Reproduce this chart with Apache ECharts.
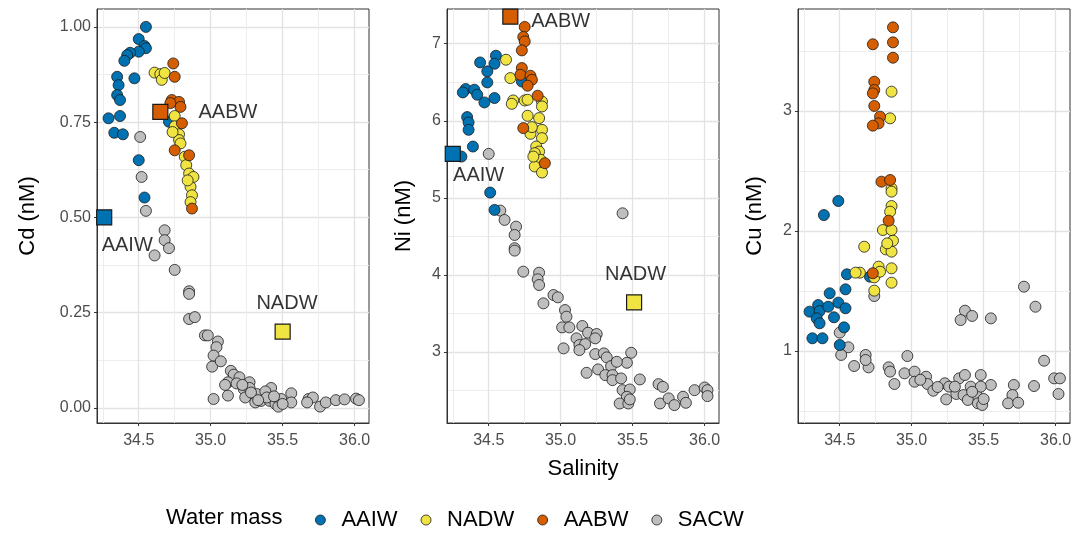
<!DOCTYPE html>
<html>
<head>
<meta charset="utf-8">
<script src="https://cdn.jsdelivr.net/npm/echarts@6/dist/echarts.min.js"></script>
<style>
  html, body { margin: 0; padding: 0; background: #fff; }
  #chart { width: 1087px; height: 544px; }
</style>
</head>
<body>
<div id="chart"></div>
<script>
// water masses, legend order
var masses = ['AAIW', 'NADW', 'AABW', 'SACW'];
var massColors = { AAIW: '#0072B2', NADW: '#F0E442', AABW: '#D55E00', SACW: '#BEBEBE' };

var xTicks = [34.5, 35.0, 35.5, 36.0];
var xMinor = [34.25, 34.75, 35.25, 35.75];

// --- Cd panel ---
var cdAAIW = [[34.55,1.00],[34.50,0.968],[34.54,0.95],[34.55,0.944],[34.50,0.935],[34.44,0.932],[34.42,0.926],[34.40,0.911],[34.35,0.869],[34.47,0.865],[34.36,0.847],[34.35,0.821],[34.37,0.808],[34.29,0.76],[34.37,0.766],[34.33,0.722],[34.39,0.718],[34.50,0.65],[34.54,0.552],[34.71,0.751]];
var cdNADW = [[34.61,0.88],[34.65,0.876],[34.66,0.861],[34.68,0.879],[34.75,0.766],[34.75,0.739],[34.78,0.718],[34.78,0.703],[34.82,0.659],[34.83,0.637],[34.85,0.615],[34.88,0.606],[34.86,0.58],[34.87,0.558],[34.86,0.54],[34.84,0.597],[34.79,0.694],[34.735,0.724]];
var cdAABW = [[34.74,0.904],[34.75,0.869],[34.73,0.808],[34.78,0.803],[34.79,0.79],[34.80,0.747],[34.75,0.676],[34.85,0.663],[34.87,0.523],[34.72,0.80]];
var cdSACW = [[34.51,0.711],[34.52,0.606],[34.55,0.517],[34.68,0.466],[34.68,0.44],[34.71,0.419],[34.61,0.40],[34.75,0.362],[34.85,0.306],[34.85,0.299],[34.85,0.233],[34.89,0.238],[34.96,0.19],[34.98,0.19],[35.05,0.174],[35.04,0.159],[35.02,0.137],[35.01,0.108],[35.07,0.122],[35.02,0.023],[35.12,0.032],[35.14,0.097],[35.16,0.087],[35.20,0.08],[35.12,0.067],[35.18,0.064],[35.27,0.067],[35.42,0.052],[35.23,0.049],[35.27,0.052],[35.24,0.027],[35.32,0.036],[35.38,0.043],[35.31,0.014],[35.35,0.018],[35.41,0.018],[35.45,0.01],[35.48,0.017],[35.47,0.003],[35.56,0.038],[35.56,0.014],[35.49,0.023],[35.68,0.023],[35.71,0.027],[35.67,0.014],[35.76,0.003],[35.80,0.014],[35.87,0.02],[35.93,0.022],[36.01,0.024],[36.03,0.02],[35.28,0.04],[35.39,0.027],[35.10,0.06],[35.22,0.06],[35.33,0.02],[35.44,0.03],[35.50,0.01]];
var cdEnd = { AAIW: [34.26,0.50], AABW: [34.65,0.777], NADW: [35.50,0.20] };
var cdText = { AABW: [35.12,0.774], AAIW: [34.42,0.426], NADW: [35.53,0.275] };
var cdTicks = [0, 0.25, 0.5, 0.75, 1.0];
var cdMinor = [0.125, 0.375, 0.625, 0.875];

// --- Ni panel ---
var niAAIW = [[34.55,6.844],[34.44,6.757],[34.54,6.74],[34.49,6.641],[34.49,6.498],[34.34,6.412],[34.32,6.368],[34.40,6.403],[34.42,6.338],[34.47,6.238],[34.54,6.295],[34.35,6.048],[34.36,5.978],[34.36,5.883],[34.39,5.666],[34.31,5.536],[34.51,5.069],[34.54,4.844],[34.73,6.51]];
var niNADW = [[34.62,6.792],[34.65,6.554],[34.67,6.264],[34.66,6.22],[34.75,6.264],[34.77,6.273],[34.87,6.25],[34.87,6.186],[34.77,6.065],[34.85,6.035],[34.79,5.831],[34.87,5.883],[34.87,5.775],[34.80,5.918],[34.83,5.666],[34.85,5.601],[34.82,5.58],[34.86,5.494],[34.82,5.407],[34.87,5.329],[34.81,5.536]];
var niAABW = [[34.75,7.217],[34.74,7.087],[34.75,7.03],[34.73,6.913],[34.73,6.684],[34.72,6.597],[34.79,6.584],[34.80,6.532],[34.77,6.455],[34.84,6.325],[34.74,5.905],[34.89,5.45]];
var niSACW = [[34.50,5.571],[34.58,4.835],[34.61,4.714],[34.69,4.627],[34.68,4.519],[34.68,4.347],[35.43,4.80],[34.68,4.316],[34.74,4.043],[34.85,4.03],[34.84,3.944],[34.85,3.87],[34.95,3.74],[34.98,3.71],[34.88,3.632],[35.03,3.545],[35.04,3.459],[35.01,3.32],[35.06,3.32],[35.15,3.338],[35.19,3.251],[35.25,3.234],[35.11,3.178],[35.24,3.178],[35.13,3.091],[35.17,3.104],[35.13,3.026],[35.02,3.048],[35.24,2.974],[35.30,2.983],[35.32,2.931],[35.49,2.991],[35.46,2.861],[35.35,2.818],[35.18,2.731],[35.26,2.775],[35.31,2.701],[35.36,2.701],[35.36,2.636],[35.42,2.658],[35.55,2.645],[35.43,2.506],[35.48,2.515],[35.46,2.42],[35.41,2.333],[35.47,2.333],[35.48,2.386],[35.68,2.584],[35.71,2.549],[35.69,2.333],[35.75,2.399],[35.79,2.312],[35.85,2.42],[35.87,2.342],[35.93,2.506],[36.00,2.541],[36.02,2.506],[36.02,2.429],[35.39,2.874]];
var niEnd = { AAIW: [34.25,5.57], AABW: [34.65,7.35], NADW: [35.51,3.645] };
var niText = { AABW: [35.00,7.29], AAIW: [34.43,5.29], NADW: [35.52,4.0] };
var niTicks = [3, 4, 5, 6, 7];
var niMinor = [2.5, 3.5, 4.5, 5.5, 6.5];

// --- Cu panel ---
var cuAAIW = [[34.39,2.133],[34.49,2.25],[34.55,1.639],[34.54,1.514],[34.43,1.481],[34.35,1.383],[34.49,1.403],[34.54,1.356],[34.29,1.328],[34.36,1.333],[34.42,1.369],[34.34,1.272],[34.46,1.281],[34.36,1.231],[34.53,1.197],[34.31,1.106],[34.38,1.106],[34.50,1.05],[34.71,1.619]];
var cuNADW = [[34.86,3.161],[34.85,2.939],[34.86,2.356],[34.86,2.328],[34.86,2.208],[34.85,2.161],[34.80,2.008],[34.86,2.008],[34.87,1.919],[34.67,1.869],[34.82,1.847],[34.86,1.828],[34.83,1.897],[34.64,1.653],[34.61,1.653],[34.77,1.703],[34.86,1.689],[34.74,1.614],[34.86,1.569],[34.74,1.503],[34.78,1.661]];
var cuAABW = [[34.87,3.697],[34.87,3.572],[34.73,3.556],[34.87,3.444],[34.74,3.244],[34.74,3.175],[34.73,3.147],[34.74,3.042],[34.78,2.953],[34.77,2.897],[34.73,2.878],[34.79,2.411],[34.85,2.425],[34.84,2.086],[34.73,1.648]];
var cuSACW = [[34.74,1.458],[34.50,1.153],[34.56,1.031],[34.51,0.967],[34.68,0.967],[34.60,0.875],[34.70,0.864],[34.68,0.925],[34.84,0.864],[34.85,0.828],[34.88,0.725],[34.97,0.958],[34.95,0.814],[35.02,0.828],[35.02,0.744],[35.10,0.786],[35.11,0.725],[35.15,0.669],[35.23,0.731],[35.26,0.703],[35.24,0.597],[35.31,0.642],[35.33,0.772],[35.37,0.80],[35.41,0.703],[35.48,0.80],[35.36,0.633],[35.45,0.633],[35.39,0.592],[35.46,0.564],[35.49,0.55],[35.55,0.717],[35.48,0.703],[35.30,0.703],[35.37,1.336],[35.34,1.258],[35.42,1.292],[35.55,1.272],[35.78,1.536],[35.86,1.369],[35.92,0.919],[35.71,0.717],[35.70,0.633],[35.67,0.564],[35.74,0.569],[35.85,0.708],[35.99,0.772],[36.03,0.772],[36.02,0.642],[35.06,0.76],[35.18,0.70],[35.42,0.66],[35.50,0.60]];
var cuTicks = [1, 2, 3];
var cuMinor = [0.5, 1.5, 2.5, 3.5];

var panels = [
    { yName: 'Cd (nM)', ymin: -0.04, ymax: 1.047, yTicks: cdTicks, yMinor: cdMinor, dec: 2, nameGap: 58,
      pts: { AAIW: cdAAIW, NADW: cdNADW, AABW: cdAABW, SACW: cdSACW }, end: cdEnd, text: cdText },
    { yName: 'Ni (nM)', ymin: 2.08, ymax: 7.45, yTicks: niTicks, yMinor: niMinor, dec: 0, nameGap: 32,
      pts: { AAIW: niAAIW, NADW: niNADW, AABW: niAABW, SACW: niSACW }, end: niEnd, text: niText, xName: 'Salinity' },
    { yName: 'Cu (nM)', ymin: 0.4, ymax: 3.85, yTicks: cuTicks, yMinor: cuMinor, dec: 0, nameGap: 32,
      pts: { AAIW: cuAAIW, NADW: cuNADW, AABW: cuAABW, SACW: cuSACW } }
];
var gridLeft = [97, 447, 798];

var chart = echarts.init(document.getElementById('chart'));

var grids = [], xAxes = [], yAxes = [], series = [];
var font = 'Liberation Sans, Arial, sans-serif';
var axisText = { color: '#4d4d4d', fontSize: 16, fontFamily: font };

panels.forEach(function (p, g) {
    grids.push({ left: gridLeft[g], top: 9, width: 272, height: 414, show: true,
        borderColor: '#333', borderWidth: 1, backgroundColor: '#fff' });

    // major x axis
    xAxes.push({ type: 'value', gridIndex: g, min: 34.21, max: 36.1,
        name: p.xName || '', nameLocation: 'middle', nameGap: 35,
        nameTextStyle: { color: '#000', fontSize: 22, fontFamily: font },
        axisLine: { show: true, onZero: false, lineStyle: { color: '#333', width: 1 } },
        axisTick: { show: true, length: 3, customValues: xTicks, lineStyle: { color: '#333' } },
        axisLabel: Object.assign({ customValues: xTicks, margin: 10,
            formatter: function (v) { return v.toFixed(1); } }, axisText),
        splitLine: { show: true, lineStyle: { color: '#e2e2e2', width: 1.3 } } });
    // minor x grid lines
    xAxes.push({ type: 'value', gridIndex: g, min: 34.21, max: 36.1,
        axisLine: { show: false, onZero: false }, axisLabel: { show: false },
        axisTick: { show: false, customValues: xMinor },
        splitLine: { show: true, lineStyle: { color: '#ededed', width: 1 } } });

    yAxes.push({ type: 'value', gridIndex: g, min: p.ymin, max: p.ymax,
        name: p.yName, nameLocation: 'middle', nameGap: p.nameGap,
        nameTextStyle: { color: '#000', fontSize: 22, fontFamily: font },
        axisLine: { show: true, onZero: false, lineStyle: { color: '#333', width: 1 } },
        axisTick: { show: true, length: 3, customValues: p.yTicks, lineStyle: { color: '#333' } },
        axisLabel: Object.assign({ customValues: p.yTicks, margin: 6,
            formatter: (function (d) { return function (v) { return v.toFixed(d); }; })(p.dec) }, axisText),
        splitLine: { show: true, lineStyle: { color: '#e2e2e2', width: 1.3 } } });
    yAxes.push({ type: 'value', gridIndex: g, min: p.ymin, max: p.ymax,
        axisLine: { show: false, onZero: false }, axisLabel: { show: false },
        axisTick: { show: false, customValues: p.yMinor },
        splitLine: { show: true, lineStyle: { color: '#ededed', width: 1 } } });

    ['SACW', 'AAIW', 'NADW', 'AABW'].forEach(function (m) {
        series.push({ type: 'scatter', name: m, xAxisIndex: g * 2, yAxisIndex: g * 2,
            data: p.pts[m], symbol: 'circle', symbolSize: 11,
            itemStyle: { color: massColors[m], borderColor: '#1a1a1a', borderWidth: 0.8, opacity: 1 },
            emphasis: { disabled: true }, z: 3 });
    });

    if (p.end) {
        series.push({ type: 'scatter', name: 'end-members', xAxisIndex: g * 2, yAxisIndex: g * 2,
            symbol: 'rect', symbolSize: 15,
            data: Object.keys(p.end).map(function (m) {
                return { name: m, value: p.end[m], itemStyle: { color: massColors[m] } };
            }),
            itemStyle: { borderColor: '#1a1a1a', borderWidth: 1.2, opacity: 1 },
            emphasis: { disabled: true }, z: 4 });
        series.push({ type: 'scatter', name: 'labels', xAxisIndex: g * 2, yAxisIndex: g * 2,
            symbolSize: 0, silent: true,
            data: Object.keys(p.text).map(function (m) { return { name: m, value: p.text[m] }; }),
            label: { show: true, position: 'inside', formatter: '{b}', color: '#000', fontSize: 20,
                fontFamily: font },
            z: 5 });
    }
});

var option = {
    animation: false,
    backgroundColor: '#fff',
    grid: grids,
    xAxis: xAxes,
    yAxis: yAxes,
    legend: {
        data: masses, left: 310, top: 504, icon: 'circle',
        itemWidth: 10, itemHeight: 10, itemGap: 23,
        itemStyle: { borderColor: '#1a1a1a', borderWidth: 0.8 },
        textStyle: { color: '#000', fontSize: 22, padding: [0, 0, 0, 11], fontFamily: font },
        selectedMode: false
    },
    graphic: [{
        type: 'text', left: 166, top: 507,
        style: { text: 'Water mass', fill: '#000', fontSize: 22, fontFamily: font }
    }],
    series: series
};
chart.setOption(option);
</script>
</body>
</html>
